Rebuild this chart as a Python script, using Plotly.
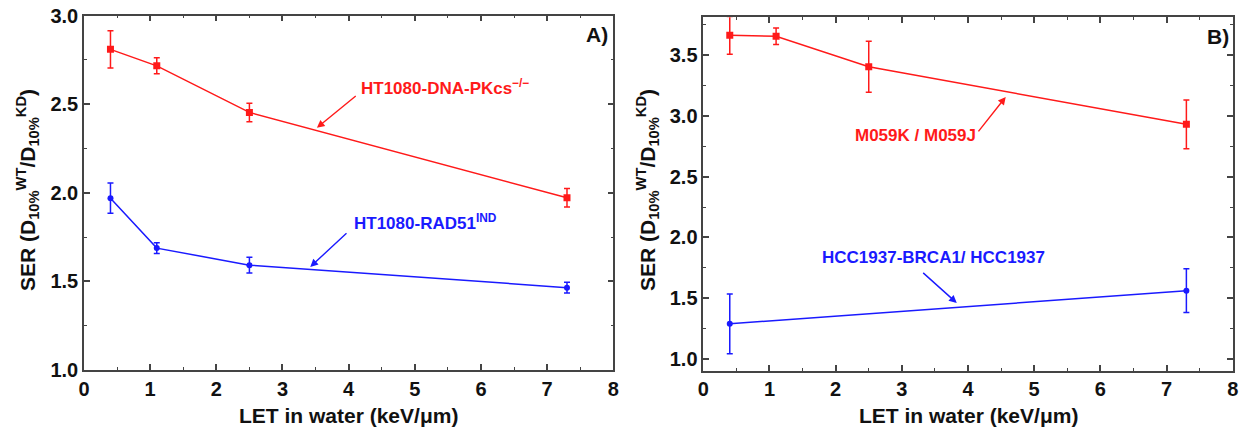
import plotly.graph_objects as go

# ---- data ----
let_a = [0.4, 1.1, 2.5, 7.3]
ser_dnapk = [2.81, 2.717, 2.454, 1.972]
err_dnapk = [0.105, 0.045, 0.052, 0.052]
ser_rad51 = [1.97, 1.688, 1.592, 1.465]
err_rad51 = [0.085, 0.031, 0.044, 0.031]

let_b_red = [0.4, 1.1, 2.5, 7.3]
ser_m059 = [3.662, 3.654, 3.404, 2.93]
err_m059 = [0.155, 0.068, 0.21, 0.2]
let_b_blue = [0.4, 7.3]
ser_hcc = [1.29, 1.563]
err_hcc = [0.245, 0.18]

x_ticks = [0, 1, 2, 3, 4, 5, 6, 7, 8]
y_ticks_a = [1.0, 1.5, 2.0, 2.5, 3.0]
y_ticks_b = [1.0, 1.5, 2.0, 2.5, 3.0, 3.5]

RED = "#ff1a1a"
BLUE = "#1a1aff"
AX = "#444444"
FONT = "Liberation Sans, Arial, sans-serif"

W, H, OFF = 1243, 427, 8  # page body has an 8px margin


def px(x):
    return (x - OFF) / W


def py(y):
    return 1 - (y - OFF) / H


fig = go.Figure()


def add_series(x, y, e, color, symbol, size, xa, ya):
    fig.add_trace(go.Scatter(
        x=x, y=y, mode="lines+markers",
        line=dict(color=color, width=1.5),
        marker=dict(color=color, symbol=symbol, size=size),
        error_y=dict(type="data", array=e, visible=True, color=color, thickness=1.5, width=3),
        xaxis=xa, yaxis=ya, showlegend=False, cliponaxis=True))


add_series(let_a, ser_dnapk, err_dnapk, RED, "square", 7, "x", "y")
add_series(let_a, ser_rad51, err_rad51, BLUE, "circle", 6, "x", "y")
add_series(let_b_red, ser_m059, err_m059, RED, "square", 7, "x2", "y2")
add_series(let_b_blue, ser_hcc, err_hcc, BLUE, "circle", 6, "x2", "y2")

TICKFONT = dict(family=FONT, size=20, color="#111111", weight="bold")


def xaxis(domain, anchor):
    return dict(domain=domain, anchor=anchor, range=[0, 8], tickvals=x_ticks,
                showgrid=False, zeroline=False, showline=True, linecolor=AX, linewidth=1.5,
                mirror="allticks", ticks="inside", ticklen=6, tickwidth=1.5, tickcolor=AX,
                minor=dict(dtick=0.5, tick0=0, ticks="inside", ticklen=3, tickwidth=1.2, tickcolor=AX),
                tickfont=TICKFONT, automargin=False, ticklabeloverflow="allow")


def yaxis(domain, anchor, rng, vals):
    return dict(domain=domain, anchor=anchor, range=rng, tickvals=vals,
                ticktext=[f"{v:.1f}" for v in vals],
                showgrid=False, zeroline=False, showline=True, linecolor=AX, linewidth=1.5,
                mirror="allticks", ticks="inside", ticklen=6, tickwidth=1.5, tickcolor=AX,
                minor=dict(dtick=0.25, tick0=0, ticks="inside", ticklen=3, tickwidth=1.2, tickcolor=AX),
                tickfont=TICKFONT, automargin=False, ticklabeloverflow="allow")


fig.update_layout(
    width=W, height=H, margin=dict(l=0, r=0, t=0, b=0, pad=0),
    paper_bgcolor="white", plot_bgcolor="white",
    font=dict(family=FONT),
    xaxis=xaxis([px(84), px(613.3)], "y"),
    yaxis=yaxis([py(370), py(15.7)], "x", [1.0, 3.0], y_ticks_a),
    xaxis2=xaxis([px(703.3), px(1232.7)], "y2"),
    yaxis2=yaxis([py(370.7), py(17.3)], "x2", [0.905, 3.81], y_ticks_b),
)

ytitle = "<b>SER (D<sub>10%</sub><sup>WT</sup>/D<sub>10%</sub><sup>KD</sup>)</b>"
xtitle = "<b>LET in water (keV/μm)</b>"
ann = []
for xc in [27, 647]:
    ann.append(dict(x=px(xc), y=py(190), xref="paper", yref="paper", text=ytitle,
                    xanchor="center", yanchor="middle",
                    textangle=-90, showarrow=False, font=dict(size=21, color="#111111")))
for xc in [348.5, 968]:
    ann.append(dict(x=px(xc), y=py(415), xref="paper", yref="paper", text=xtitle,
                    xanchor="center", yanchor="middle",
                    showarrow=False, font=dict(size=21, color="#111111")))
ann.append(dict(x=px(597), y=py(35), xref="paper", yref="paper", text="<b>A)</b>",
                xanchor="center", yanchor="middle",
                showarrow=False, font=dict(size=21, color="#111111")))
ann.append(dict(x=px(1218), y=py(37), xref="paper", yref="paper", text="<b>B)</b>",
                xanchor="center", yanchor="middle",
                showarrow=False, font=dict(size=21, color="#111111")))


def label(x0, yc, text, color):
    ann.append(dict(x=px(x0), y=py(yc), xref="paper", yref="paper", xanchor="left",
                    yanchor="middle", text=text, showarrow=False,
                    font=dict(size=17, color=color)))


label(359, 87, "<b>HT1080-DNA-PKcs<sup>−/−</sup></b>", RED)
label(352, 222, "<b>HT1080-RAD51<sup>IND</sup></b>", BLUE)
label(853, 135, "<b>M059K / M059J</b>", RED)
label(820, 257, "<b>HCC1937-BRCA1/ HCC1937</b>", BLUE)


def arrow(xh, yh, xt, yt, color, xr, yr):
    ann.append(dict(x=xh, y=yh, ax=xt, ay=yt, xref=xr, yref=yr, axref=xr, ayref=yr,
                    text="", showarrow=True, arrowhead=2, arrowsize=1.1, arrowwidth=1.4,
                    arrowcolor=color))


arrow(3.52, 2.367, 4.13, 2.554, RED, "x", "y")
arrow(3.42, 1.582, 3.99, 1.78, BLUE, "x", "y")
arrow(4.57, 3.155, 4.14, 2.86, RED, "x2", "y2")
arrow(3.83, 1.462, 3.30, 1.72, BLUE, "x2", "y2")

fig.update_layout(annotations=ann)
fig.write_html("out.html")
